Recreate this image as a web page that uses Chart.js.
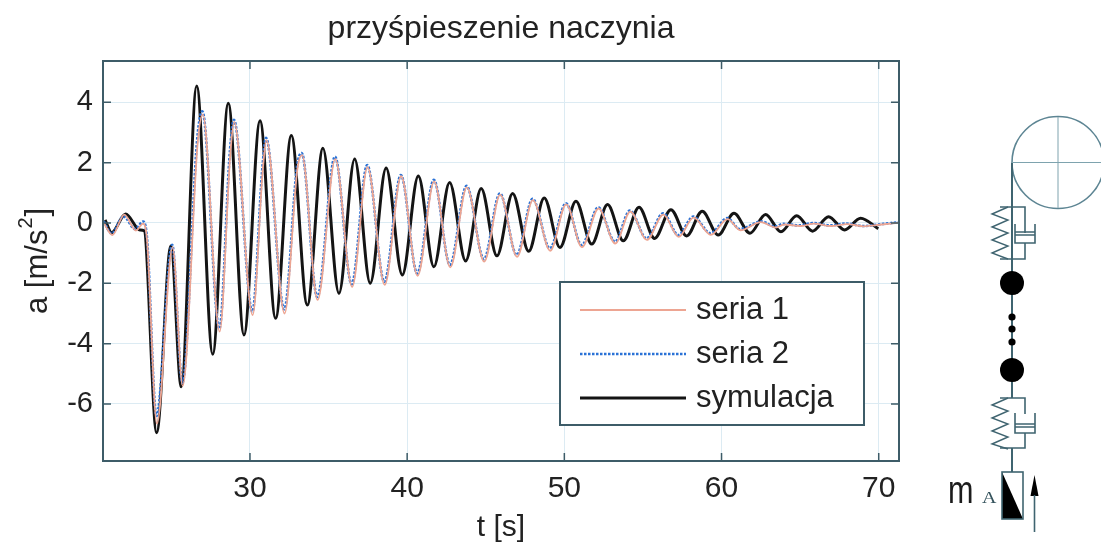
<!DOCTYPE html>
<html>
<head>
<meta charset="utf-8">
<style>
  body { margin: 0; background: #fff; }
  #wrap { position: relative; width: 1101px; height: 543px; overflow: hidden; }
  #wrap svg { position: absolute; left: 0; top: 0; }
</style>
<script src="https://cdn.jsdelivr.net/npm/chart.js@4/dist/chart.umd.min.js"></script>
</head>
<body>
<div id="wrap">
  <canvas id="accChart" width="1101" height="543"></canvas>
  <!-- schematic of the pulley, springs and mass -->
  <svg width="1101" height="543" fill="none" stroke="#3f6470" stroke-width="1.6">
    <circle cx="1058" cy="162.5" r="46" stroke="#5d8593"/>
    <path d="M1012 162.5H1104M1058 117V208" stroke="#7ea3ae" stroke-width="1"/>
    <path d="M1012 163V282M1012 282V370M1012 370V398M1012 448V472" stroke-width="2"/>
    <path d="M1000 207H1025V233M1015 224V243H1035V224M1015 235H1035M1015 232H1035M1025 243V259H1000"/>
    <path d="M1008 207L992 214L1008 220L992 227L1008 233L992 240L1008 246L992 253L1008 259" stroke-width="1.4"/>
    <path d="M1000 398H1025V414M1015 413V433H1035V413M1015 424H1035M1015 427H1035M1025 433V448H1000"/>
    <path d="M1008 398L992 405L1008 411L992 418L1008 424L992 431L1008 437L992 444L1008 449" stroke-width="1.4"/>
    <g fill="#000" stroke="none">
      <circle cx="1012" cy="283" r="12"/>
      <circle cx="1012" cy="317" r="3.6"/>
      <circle cx="1012" cy="329" r="3.6"/>
      <circle cx="1012" cy="342" r="3.6"/>
      <circle cx="1012" cy="370" r="12"/>
      <path d="M1002 472V519H1023Z"/>
      <path d="M1034.5 475L1030.5 496H1038.5Z"/>
    </g>
    <rect x="1002" y="472" width="21" height="47"/>
    <path d="M1034.5 495V532"/>
    <text transform="translate(948 503) scale(.85 1.1)" font-family="Liberation Sans" font-size="36" fill="#1c1c1c" stroke="none">m</text>
    <text transform="translate(982 503) scale(1 .8)" font-family="Liberation Serif" font-size="20" fill="#34525c" stroke="none">A</text>
  </svg>
</div>
<script>
// values
const simT = [20.78, 21.2, 22.09, 23.0, 23.26, 24.06, 24.97, 25.63, 26.61, 27.63, 28.62, 29.62, 30.64, 31.63, 32.63, 33.65, 34.64, 35.66, 36.66, 37.65, 38.66, 39.69, 40.71, 41.7, 42.7, 43.72, 44.71, 45.71, 46.71, 47.73, 48.72, 49.72, 50.74, 51.74, 52.75, 53.75, 54.75, 55.74, 56.78, 57.78, 58.77, 59.79, 60.79, 61.81, 62.8, 63.78, 64.78, 65.79, 66.81, 67.83, 68.85, 69.97];
const simA = [0.1, -0.32, 0.3, -0.23, -0.25, -6.95, -0.76, -5.43, 4.54, -4.35, 3.97, -3.71, 3.39, -3.16, 2.9, -2.72, 2.48, -2.33, 2.12, -2.0, 1.82, -1.72, 1.56, -1.45, 1.34, -1.26, 1.14, -1.09, 0.98, -0.94, 0.83, -0.81, 0.72, -0.7, 0.61, -0.59, 0.52, -0.51, 0.44, -0.43, 0.39, -0.4, 0.32, -0.34, 0.28, -0.29, 0.24, -0.27, 0.21, -0.23, 0.16, -0.19];

const seria2T = [20.7, 21.2, 21.95, 22.7, 23.2, 23.45, 24.05, 25.05, 25.7, 26.65, 26.97, 28.05, 28.73, 28.98, 30.15, 30.8, 31.02, 32.18, 33.0, 33.29, 34.28, 35.41, 36.47, 37.46, 38.55, 39.6, 40.64, 41.7, 42.72, 43.78, 44.88, 45.9, 46.97, 47.98, 49.08, 50.1, 51.1, 52.16, 53.22, 54.17, 55.23, 56.29, 57.25, 58.2, 59.3, 60.36, 61.17, 62.55, 63.4, 63.93, 64.95, 65.8, 66.9, 67.96, 69.0, 70.3, 71.3];
const seria2A = [0.05, -0.35, 0.22, -0.2, 0.05, -0.5, -6.4, -0.72, -5.3, 2.82, 3.7, -3.5, 2.42, 3.42, -2.94, 1.9, 2.82, -2.86, 1.9, 2.32, -2.45, 2.2, -2.03, 1.92, -1.95, 1.59, -1.67, 1.43, -1.39, 1.23, -1.2, 0.98, -1.06, 0.8, -0.84, 0.65, -0.73, 0.52, -0.62, 0.41, -0.51, 0.32, -0.4, 0.21, -0.34, 0.16, -0.2, 0.05, -0.12, -0.03, -0.08, 0, -0.08, -0.02, -0.1, -0.03, 0.03];

const seria1T = [20.7, 21.25, 22.0, 22.75, 23.2, 23.45, 24.08, 25.08, 25.72, 26.68, 27.0, 28.07, 28.75, 29.0, 30.17, 30.82, 31.05, 32.2, 33.02, 33.31, 34.3, 35.43, 36.5, 37.48, 38.57, 39.62, 40.66, 41.72, 42.74, 43.8, 44.9, 45.92, 46.99, 48.0, 49.1, 50.12, 51.12, 52.18, 53.24, 54.2, 55.25, 56.3, 57.27, 58.22, 59.32, 60.38, 61.2, 62.5, 63.45, 64.0, 65.0, 65.9, 66.95, 68.0, 69.05, 70.2, 71.3];
const seria1A = [0.0, -0.4, 0.28, -0.25, -0.02, -0.55, -6.65, -0.8, -5.4, 2.7, 3.6, -3.6, 2.3, 3.35, -3.05, 1.8, 2.75, -3.0, 1.8, 2.25, -2.55, 2.12, -2.12, 1.85, -2.05, 1.55, -1.75, 1.38, -1.47, 1.18, -1.28, 0.94, -1.12, 0.76, -0.92, 0.62, -0.8, 0.48, -0.68, 0.38, -0.56, 0.28, -0.46, 0.18, -0.39, 0.13, -0.24, 0.03, -0.15, -0.05, -0.1, -0.02, -0.1, -0.04, -0.11, -0.05, 0.01];

const xTicks = [30, 40, 50, 60, 70];
const yTicks = [-6, -4, -2, 0, 2, 4];
const legendLabels = ['seria 1', 'seria 2', 'symulacja'];

const FONT = 'Liberation Sans';
const TEXT = '#222';
const FRAME = '#3d5c68';

function points(ts, as) {
    return ts.map((t, i) => ({ x: t, y: as[i] }));
}

function lineDataset(label, ts, as, color, width, dash) {
    return {
        label: label,
        data: points(ts, as),
        borderColor: color,
        borderWidth: width,
        borderDash: dash,
        pointRadius: 0,
        cubicInterpolationMode: 'monotone'
    };
}

// frame and the short ticks pointing into the plot, on all four sides
const framePlugin = {
    id: 'frame',
    afterDatasetsDraw(chart) {
        const { ctx, chartArea: a, scales } = chart;
        ctx.save();
        ctx.strokeStyle = FRAME;
        ctx.lineWidth = 1.5;
        ctx.beginPath();
        xTicks.forEach(v => {
            const x = scales.x.getPixelForValue(v);
            ctx.moveTo(x, a.top); ctx.lineTo(x, a.top + 8);
            ctx.moveTo(x, a.bottom); ctx.lineTo(x, a.bottom - 8);
        });
        yTicks.forEach(v => {
            const y = scales.y.getPixelForValue(v);
            ctx.moveTo(a.left, y); ctx.lineTo(a.left + 8, y);
            ctx.moveTo(a.right, y); ctx.lineTo(a.right - 8, y);
        });
        ctx.stroke();
        ctx.lineWidth = 2;
        ctx.strokeRect(a.left, a.top, a.right - a.left, a.bottom - a.top);
        ctx.restore();
    }
};

// legend box sits inside the plot, lower right
const legendPlugin = {
    id: 'boxLegend',
    afterDraw(chart) {
        const ctx = chart.ctx;
        const rows = [310, 354, 398];
        ctx.save();
        ctx.fillStyle = '#fff';
        ctx.fillRect(560, 282, 304, 143);
        ctx.strokeStyle = FRAME;
        ctx.lineWidth = 2;
        ctx.strokeRect(560, 282, 304, 143);
        ctx.font = '31px "' + FONT + '"';
        ctx.textBaseline = 'middle';
        chart.data.datasets.forEach((ds, i) => {
            ctx.strokeStyle = ds.borderColor;
            ctx.lineWidth = ds.borderWidth;
            ctx.setLineDash(ds.borderDash || []);
            ctx.beginPath();
            ctx.moveTo(580, rows[i]);
            ctx.lineTo(686, rows[i]);
            ctx.stroke();
            ctx.fillStyle = TEXT;
            ctx.fillText(legendLabels[i], 696, rows[i]);
        });
        ctx.restore();
    }
};

// y label needs a real raised 2, the axis title can't do that
const yLabelPlugin = {
    id: 'yLabel',
    afterDraw(chart) {
        const ctx = chart.ctx;
        const big = '31px "' + FONT + '"';
        const small = '20px "' + FONT + '"';
        ctx.save();
        ctx.translate(47, 314);
        ctx.rotate(-Math.PI / 2);
        ctx.fillStyle = TEXT;
        ctx.textBaseline = 'alphabetic';
        ctx.font = big;
        ctx.fillText('a [m/s', 0, 0);
        let w = ctx.measureText('a [m/s').width;
        ctx.font = small;
        ctx.fillText('2', w + 1, -15);
        w += ctx.measureText('2').width + 2;
        ctx.font = big;
        ctx.fillText(']', w, 0);
        ctx.restore();
    }
};

new Chart(document.getElementById('accChart'), {
    type: 'line',
    data: {
        datasets: [
            lineDataset(legendLabels[0], seria1T, seria1A, '#eda592', 1.8, []),
            lineDataset(legendLabels[1], seria2T, seria2A, '#2a72d6', 2.6, [2.5, 1.5]),
            lineDataset(legendLabels[2], simT, simA, '#141414', 3, [])
        ]
    },
    options: {
        responsive: false,
        animation: false,
        layout: { padding: { right: 202 } },
        plugins: {
            legend: { display: false },
            tooltip: { enabled: false },
            title: {
                display: true,
                fullSize: false,
                text: 'przyśpieszenie naczynia',
                color: TEXT,
                font: { family: FONT, size: 32, weight: 'normal' },
                padding: { top: 10, bottom: 12.6 }
            }
        },
        scales: {
            x: {
                type: 'linear',
                min: 20.65,
                max: 71.29,
                afterFit(axis) { axis.height = 82; },
                afterBuildTicks(axis) { axis.ticks = xTicks.map(v => ({ value: v })); },
                ticks: {
                    color: TEXT,
                    maxRotation: 0,
                    padding: 10,
                    font: { family: FONT, size: 30 }
                },
                grid: { color: '#dcebf3', drawTicks: false },
                border: { display: false },
                title: {
                    display: true,
                    text: 't [s]',
                    color: TEXT,
                    font: { family: FONT, size: 30, lineHeight: 1 },
                    padding: { top: 0, bottom: 0 }
                }
            },
            y: {
                min: -7.89,
                max: 5.37,
                afterFit(axis) { axis.width = 103; },
                afterBuildTicks(axis) { axis.ticks = yTicks.map(v => ({ value: v })); },
                ticks: {
                    color: TEXT,
                    padding: 10,
                    font: { family: FONT, size: 29 }
                },
                grid: { color: '#dcebf3', drawTicks: false },
                border: { display: false }
            }
        }
    },
    plugins: [framePlugin, legendPlugin, yLabelPlugin]
});
</script>
</body>
</html>
